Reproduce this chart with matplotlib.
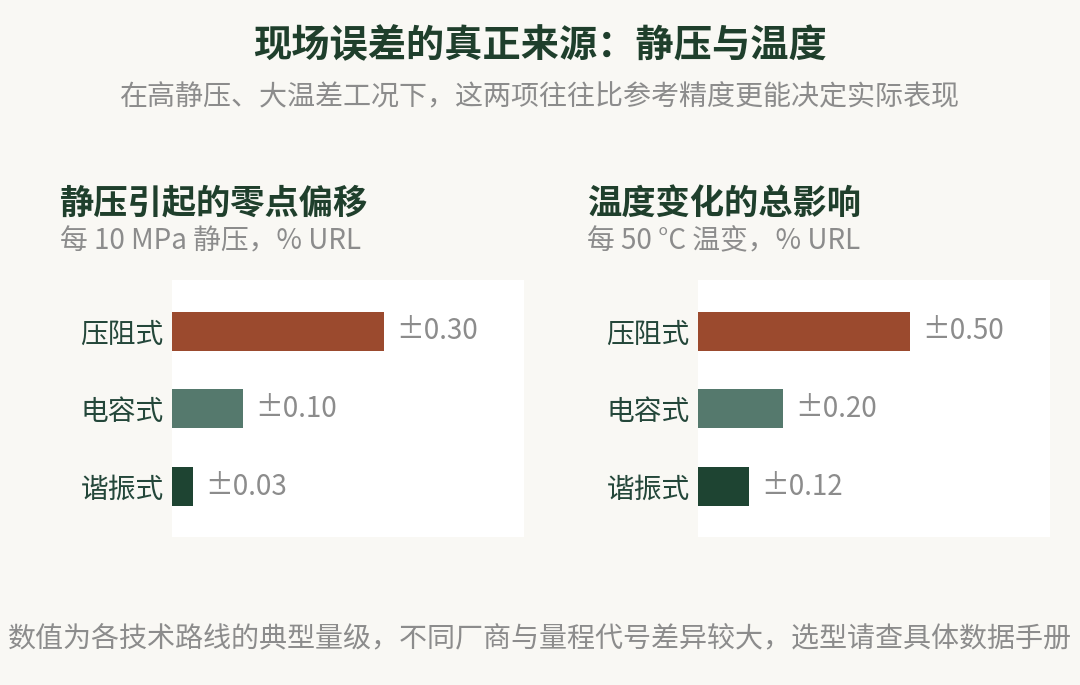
import matplotlib
matplotlib.use("Agg")
import matplotlib.pyplot as plt

plt.rcParams['font.family'] = ['Noto Sans CJK SC', 'DejaVu Sans']

# data
categories = ["压阻式", "电容式", "谐振式"]
static_vals = [0.30, 0.10, 0.03]
temp_vals = [0.50, 0.20, 0.12]
bar_colors = ["#9b4a2e", "#55796d", "#1e4432"]

title = "现场误差的真正来源：静压与温度"
subtitle = "在高静压、大温差工况下，这两项往往比参考精度更能决定实际表现"
panel_titles = ["静压引起的零点偏移", "温度变化的总影响"]
panel_subs = ["每 10 MPa 静压，% URL", "每 50 °C 温变，% URL"]
footnote = "数值为各技术路线的典型量级，不同厂商与量程代号差异较大，选型请查具体数据手册"

BG = "#f9f8f4"
DARK = "#1f3f2c"
LABEL = "#24473a"
GRAY = "#8c8c8c"

fig = plt.figure(figsize=(10.8, 6.85), dpi=100, facecolor=BG)

fig.text(0.5, 1 - 46 / 685, title, ha="center", va="center",
         fontsize=27.5, fontweight="bold", color=DARK)
fig.text(0.5, 1 - 97 / 685, subtitle, ha="center", va="center",
         fontsize=20.2, color=GRAY)
fig.text(0.5, 1 - 638 / 685, footnote, ha="center", va="center",
         fontsize=20.2, color=GRAY)


def panel(x0, vals, ptitle, psub, tx):
    ax = fig.add_axes([x0 / 1080, 1 - 537 / 685, 352 / 1080, 257 / 685])
    ax.set_facecolor("white")
    y = list(range(len(categories)))
    ax.barh(y, vals, height=0.5, color=bar_colors)
    for yi, v in zip(y, vals):
        ax.annotate(f"±{v:.2f}", (v, yi), xytext=(9, 0), textcoords="offset points",
                    ha="left", va="center", fontsize=20, color=GRAY)
    ax.set_xlim(0, max(vals) * 1.66)
    ax.set_ylim(len(categories) - 0.35, -0.66)
    ax.set_yticks(y)
    ax.set_yticklabels(categories, fontsize=20, color=LABEL)
    ax.tick_params(axis="y", length=0, pad=6)
    ax.set_xticks([])
    for s in ax.spines.values():
        s.set_visible(False)
    fig.text(tx / 1080, 1 - 203 / 685, ptitle, ha="left", va="center",
             fontsize=24.7, fontweight="bold", color=DARK)
    fig.text(tx / 1080, 1 - 241 / 685, psub, ha="left", va="center",
             fontsize=20, color=GRAY)


panel(172, static_vals, panel_titles[0], panel_subs[0], 60)
panel(698, temp_vals, panel_titles[1], panel_subs[1], 587)

fig.savefig("out.png", dpi=100, facecolor=BG)
